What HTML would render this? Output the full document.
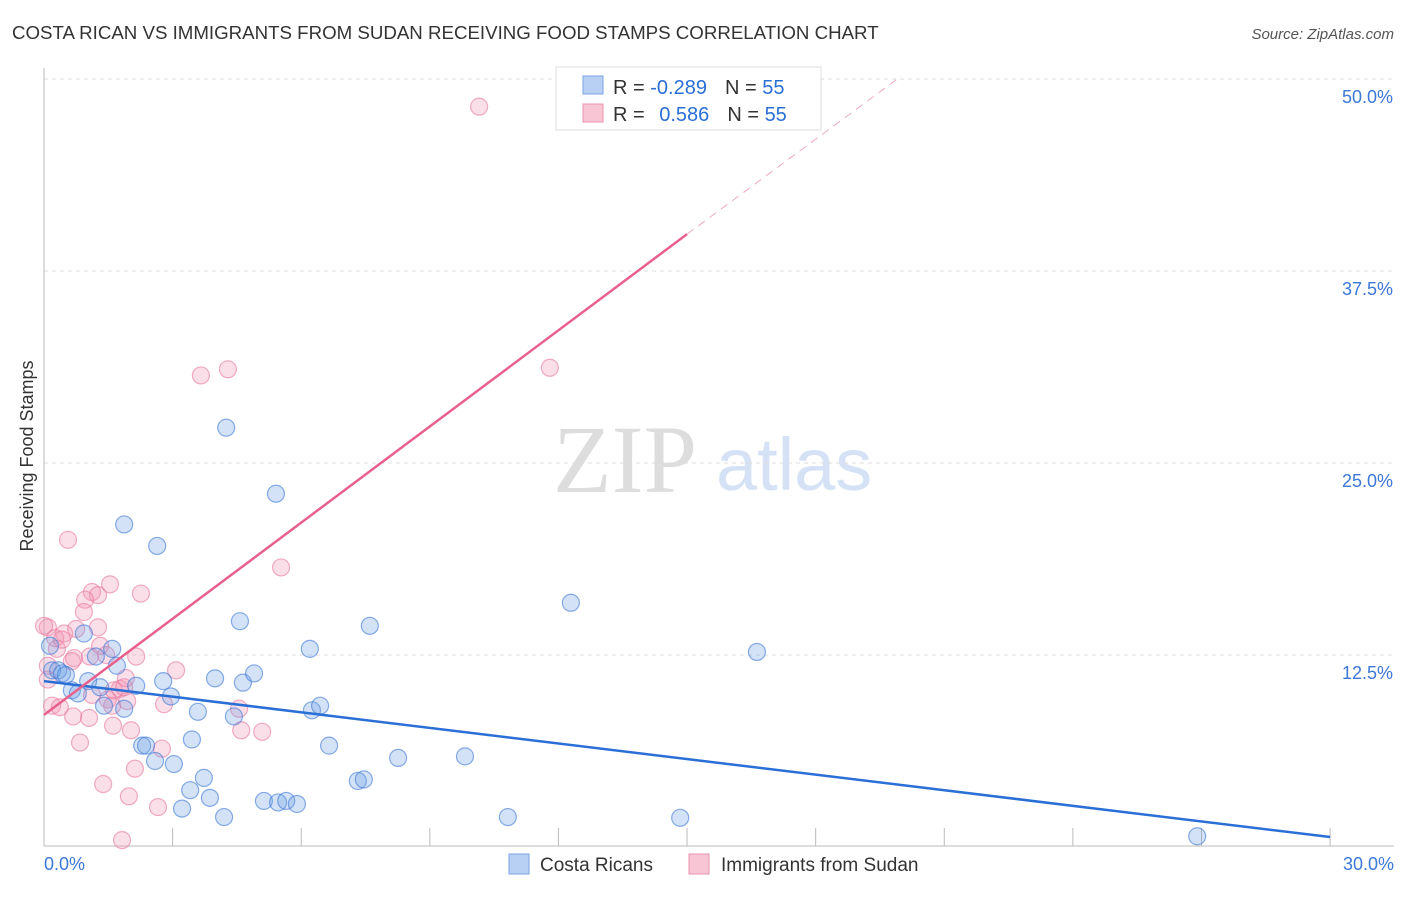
<!DOCTYPE html>
<html><head><meta charset="utf-8"><style>
body{margin:0;background:#fff;font-family:"Liberation Sans",sans-serif}
</style></head><body>
<svg width="1406" height="892" xmlns="http://www.w3.org/2000/svg">
<text x="12" y="39" font-size="18.7" fill="#333">COSTA RICAN VS IMMIGRANTS FROM SUDAN RECEIVING FOOD STAMPS CORRELATION CHART</text>
<text x="1394" y="39" font-size="15" fill="#555" text-anchor="end" font-style="italic">Source: ZipAtlas.com</text>
<text x="33" y="456" font-size="18" fill="#333" text-anchor="middle" transform="rotate(-90 33 456)">Receiving Food Stamps</text>
<text x="553" y="492" font-size="96" fill="#ddd" font-family="Liberation Serif,serif">ZIP</text>
<text x="716" y="490" font-size="74" fill="#d5e2f5">atlas</text>
<g id="grid"></g><g id="axes"></g><g id="pts"></g><g id="lines"></g>
<g>
<rect x="556" y="67" width="265" height="63" fill="#fff" stroke="#ddd"/>
<rect x="583" y="76" width="20" height="18" fill="#b8d0f3" stroke="#7aa3e0"/>
<rect x="583" y="104" width="20" height="18" fill="#f8c5d4" stroke="#eb93ae"/>
<text x="613" y="94" font-size="20" fill="#333">R = <tspan fill="#2a6fd6">-0.289</tspan><tspan dx="18" fill="#333">N = </tspan><tspan fill="#2a6fd6">55</tspan></text>
<text x="613" y="121" font-size="20" fill="#333">R = <tspan dx="9" fill="#2a6fd6">0.586</tspan><tspan dx="18" fill="#333">N = </tspan><tspan fill="#2a6fd6">55</tspan></text>
</g>
<g>
<rect x="509" y="854" width="20" height="20" fill="#b8d0f3" stroke="#7aa3e0"/>
<text x="540" y="871" font-size="19" fill="#333">Costa Ricans</text>
<rect x="689" y="854" width="20" height="20" fill="#f8c5d4" stroke="#eb93ae"/>
<text x="721" y="871" font-size="19" fill="#333">Immigrants from Sudan</text>
</g>
</svg>
<script>
const yTicks=[12.5,25,37.5,50];
const yTickLabels=["12.5%","25.0%","37.5%","50.0%"];
const xTicks=[0,3,6,9,12,15,18,21,24,27,30];
const blueX=[0.14,0.19,0.33,0.42,0.51,0.65,0.79,0.93,1.03,1.21,1.31,1.4,1.59,1.70,1.87,1.87,2.15,2.29,2.38,2.59,2.64,2.78,2.96,3.03,3.22,3.41,3.45,3.59,3.73,3.87,3.99,4.2,4.25,4.43,4.57,4.64,4.9,5.13,5.41,5.46,5.65,5.9,6.2,6.25,6.44,6.65,7.32,7.46,7.6,8.26,9.82,10.82,12.29,14.84,16.63,26.9];
const blueY=[13.1,11.5,11.5,11.3,11.2,10.2,10.0,13.9,10.8,12.4,10.4,9.2,12.9,11.8,9.0,21.0,10.5,6.6,6.6,5.6,19.6,10.8,9.8,5.4,2.5,3.7,7.0,8.8,4.5,3.2,10.98,1.95,27.3,8.5,14.7,10.7,11.3,3.0,23.0,2.9,3.0,2.8,12.9,8.9,9.2,6.6,4.3,4.4,14.4,5.8,5.9,1.95,15.9,1.9,12.7,0.7];
const pinkX=[0.56,10.15,3.66,4.29,11.8,5.53,2.26,1.54,1.12,1.26,0.96,0.93,0.09,0.47,0.75,1.26,0.30,0.70,0.65,0.09,1.31,2.15,3.08,0.19,0.37,0.68,1.05,1.49,1.61,1.63,1.77,1.87,1.91,2.03,2.8,4.55,4.6,5.09,0.84,2.12,2.75,1.38,1.98,2.66,1.82,0.26,0.0,0.42,1.07,1.45,0.09,1.12,1.59,1.94];
const pinkY=[20.0,48.2,30.7,31.1,31.2,18.2,16.5,17.1,16.6,16.4,16.1,15.3,14.3,13.9,14.2,14.3,12.9,12.3,12.1,11.8,13.1,12.4,11.5,9.2,9.1,8.5,8.4,9.6,7.9,10.2,10.3,10.4,11.0,7.6,9.3,9.0,7.6,7.5,6.8,5.1,6.4,4.1,3.3,2.6,0.45,13.6,14.4,13.5,12.4,12.5,10.9,9.9,9.2,9.5];
const blueTrend=[[0,10.8],[30,0.65]];
const pinkTrend=[[0,8.6],[15,39.9]];
const pinkExt=[[15,39.9],[20,50.2]];
const X=v=>44+v*42.87, Y=v=>847-v*15.36;
const NS="http://www.w3.org/2000/svg";
function mk(t,a,p){const e=document.createElementNS(NS,t);for(const k in a)e.setAttribute(k,a[k]);p.appendChild(e);return e;}
const grid=document.getElementById('grid'),axes=document.getElementById('axes'),pts=document.getElementById('pts'),lines=document.getElementById('lines');
yTicks.forEach((t,i)=>{
 const l=mk('line',{x1:44,x2:1394,y1:Y(t),y2:Y(t),stroke:'#ddd','stroke-dasharray':'4,4'},grid);
 
 
 const tx=mk('text',{x:1393,y:Y(t)+24,'font-size':18,fill:'#3b78d8','text-anchor':'end'},axes);
 tx.textContent=yTickLabels[i];
 
 
});
mk('line',{x1:44,x2:44,y1:68,y2:846,stroke:'#bbb'},axes);
mk('line',{x1:44,x2:1394,y1:846,y2:846,stroke:'#bbb'},axes);
xTicks.forEach(t=>{const l=mk('line',{x1:X(t),x2:X(t),y1:828,y2:846,stroke:'#bbb'},axes);
 
 });
let t0=mk('text',{x:44,y:870,'font-size':18,fill:'#3b78d8'},axes);t0.textContent='0.0%';


let t1=mk('text',{x:1394,y:870,'font-size':18,fill:'#3b78d8','text-anchor':'end'},axes);t1.textContent='30.0%';


pinkX.forEach((x,i)=>{const c=mk('circle',{cx:X(x),cy:Y(pinkY[i]),r:8.5,fill:'rgba(242,150,180,0.3)',stroke:'rgba(232,120,160,0.6)','stroke-width':1.2},pts);
 
 });
blueX.forEach((x,i)=>{const c=mk('circle',{cx:X(x),cy:Y(blueY[i]),r:8.5,fill:'rgba(110,160,230,0.3)',stroke:'rgba(60,120,215,0.6)','stroke-width':1.2},pts);
 
 });
const bl=mk('line',{x1:X(blueTrend[0][0]),y1:Y(blueTrend[0][1]),x2:X(blueTrend[1][0]),y2:Y(blueTrend[1][1]),stroke:'#2a6fd6','stroke-width':2.5},lines);


const pl=mk('line',{x1:X(pinkTrend[0][0]),y1:Y(pinkTrend[0][1]),x2:X(pinkTrend[1][0]),y2:Y(pinkTrend[1][1]),stroke:'#e8608c','stroke-width':2.5},lines);


const pe=mk('line',{x1:X(pinkExt[0][0]),y1:Y(pinkExt[0][1]),x2:X(pinkExt[1][0]),y2:Y(pinkExt[1][1]),stroke:'#eeaabf','stroke-width':1,'stroke-dasharray':'8,6'},lines);


</script>
</body></html>
